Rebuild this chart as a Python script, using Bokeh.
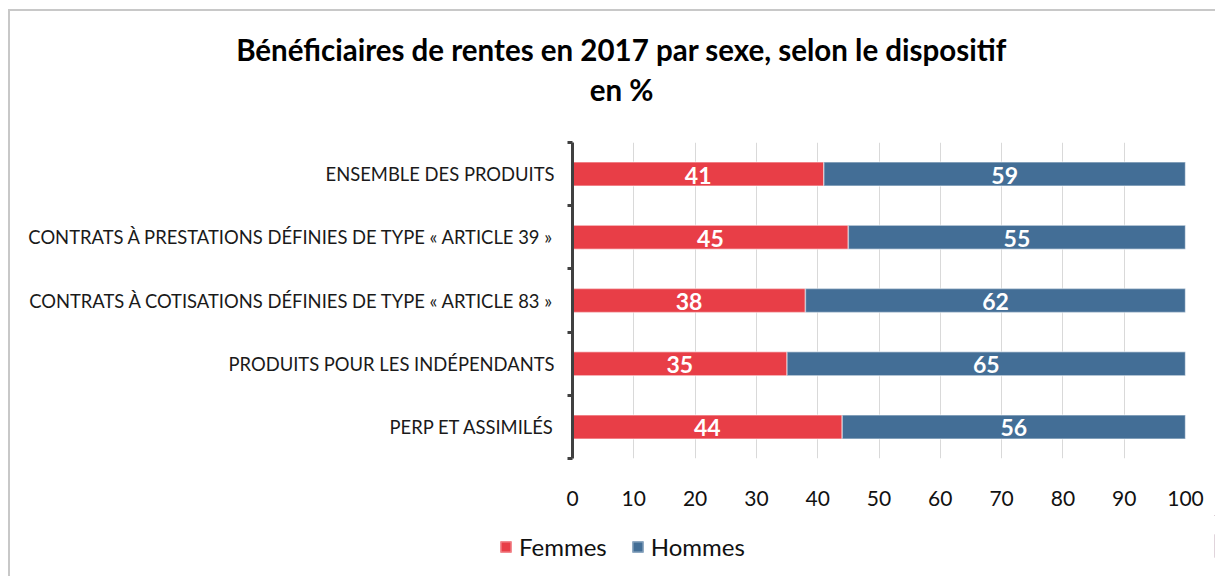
from bokeh.plotting import figure
from bokeh.layouts import column
from bokeh.models import (Range1d, LinearAxis, FixedTicker,
                          ColumnDataSource, LabelSet, Label, Legend, LegendItem)
from bokeh.core.properties import value
from bokeh.embed import file_html
from bokeh.resources import INLINE

categories = [
    "ENSEMBLE DES PRODUITS",
    "CONTRATS À PRESTATIONS DÉFINIES DE TYPE « ARTICLE 39 »",
    "CONTRATS À COTISATIONS DÉFINIES DE TYPE « ARTICLE 83 »",
    "PRODUITS POUR LES INDÉPENDANTS",
    "PERP ET ASSIMILÉS",
]
femmes = [41, 45, 38, 35, 44]
hommes = [59, 55, 62, 65, 56]
x_ticks = [0, 10, 20, 30, 40, 50, 60, 70, 80, 90, 100]
title_line1 = "Bénéficiaires de rentes en 2017 par sexe, selon le dispositif"
title_line2 = "en %"
series_names = ["Femmes", "Hommes"]

RED = "#E83E47"
BLUE = "#436E96"
FONT = "Lato"
W = 1205


def bare(fig):
    fig.outline_line_color = None
    fig.background_fill_color = "white"
    fig.border_fill_color = "white"
    fig.xgrid.visible = False
    fig.ygrid.visible = False
    return fig


def no_align(fig):
    try:
        fig.frame_align = False
    except Exception:
        pass
    return fig


# ---------- title strip ----------
HA = 120
pa = bare(figure(width=W, height=HA, output_backend="svg", toolbar_location=None,
                 x_range=Range1d(0, 1), y_range=Range1d(0, 1),
                 x_axis_location=None, y_axis_location=None, min_border=0))
no_align(pa)
pa.add_layout(Label(x=611, y=82, x_units="screen", y_units="screen", text=title_line1,
                    text_align="center", text_baseline="middle", text_font=FONT,
                    text_font_style="bold", text_font_size="29.5px", text_color="black"))
pa.add_layout(Label(x=611, y=42, x_units="screen", y_units="screen", text=title_line2,
                    text_align="center", text_baseline="middle", text_font=FONT,
                    text_font_style="bold", text_font_size="29.5px", text_color="black"))

# ---------- main chart ----------
n = len(categories)
ypos = [n - 0.5 - i for i in range(n)]   # category centres, first at top
edges = list(range(n + 1))               # category boundaries

HB = 384
p = figure(width=W, height=HB, output_backend="svg", toolbar_location=None,
           y_range=Range1d(0, n), x_range=Range1d(0, 100),
           x_axis_location=None, y_axis_location=None,
           min_border_left=562, min_border_right=30, min_border_top=11, min_border_bottom=57)
no_align(p)
p.outline_line_color = None
p.background_fill_color = "white"
p.border_fill_color = "white"

edge_axis = LinearAxis(ticker=FixedTicker(ticks=edges),
                       major_label_overrides={e: "" for e in edges},
                       major_label_standoff=0, major_tick_out=5, major_tick_in=0,
                       minor_tick_line_color=None,
                       axis_line_width=3, axis_line_color="#404040",
                       major_tick_line_width=3, major_tick_line_color="#404040")
p.add_layout(edge_axis, "left")

cat_axis = LinearAxis(ticker=FixedTicker(ticks=ypos),
                      major_label_overrides={y: c for y, c in zip(ypos, categories)},
                      axis_line_color=None, major_tick_line_color=None, minor_tick_line_color=None,
                      major_label_standoff=7,
                      major_label_text_font=FONT, major_label_text_font_size="18.4px",
                      major_label_text_color="#1a1a1a")
p.add_layout(cat_axis, "left")

x_axis = LinearAxis(ticker=FixedTicker(ticks=x_ticks), axis_line_color=None,
                    major_tick_line_color=None, minor_tick_line_color=None,
                    major_label_standoff=26, major_label_text_font=FONT,
                    major_label_text_font_size="21px", major_label_text_color="#111111")
p.add_layout(x_axis, "below")

p.xgrid.ticker = FixedTicker(ticks=x_ticks)
p.xgrid.grid_line_color = "#d9d9d9"
p.ygrid.grid_line_color = None

src = ColumnDataSource(dict(
    y=ypos,
    f_end=femmes,
    h_end=[a + b for a, b in zip(femmes, hommes)],
    f_mid=[a / 2 for a in femmes],
    h_mid=[a + b / 2 for a, b in zip(femmes, hommes)],
    f_txt=[str(v) for v in femmes],
    h_txt=[str(v) for v in hommes],
))

bar_style = dict(line_color="white", line_alpha=0.45, line_width=1.5)
p.hbar(y="y", left=0, right="f_end", height=0.38, source=src, fill_color=RED, **bar_style)
p.hbar(y="y", left="f_end", right="h_end", height=0.38, source=src, fill_color=BLUE, **bar_style)

for xcol, tcol in (("f_mid", "f_txt"), ("h_mid", "h_txt")):
    p.add_layout(LabelSet(x=xcol, y="y", text=tcol, source=src, text_align="center",
                          text_baseline="middle", text_color="white", text_font=value(FONT),
                          text_font_style="bold", text_font_size="23px", y_offset=-1))

# ---------- legend strip (same data, drawn outside the strip's visible range) ----------
HC = 61
pc = bare(figure(width=W, height=HC, output_backend="svg", toolbar_location=None,
                 x_range=Range1d(-2, -1), y_range=Range1d(0, 1),
                 x_axis_location=None, y_axis_location=None, min_border=0))
no_align(pc)
lr1 = pc.hbar(y="y", left=0, right="f_end", height=0.38, source=src, fill_color=RED,
              line_color="#f28a90", line_width=1.5)
lr2 = pc.hbar(y="y", left="f_end", right="h_end", height=0.38, source=src, fill_color=BLUE,
              line_color="#8fa9c2", line_width=1.5)
legend = Legend(items=[LegendItem(label=series_names[0], renderers=[lr1]),
                       LegendItem(label=series_names[1], renderers=[lr2])],
                orientation="horizontal", location=(489, 15),
                label_text_font=FONT, label_text_font_size="24px", label_text_color="#111111",
                glyph_width=13, glyph_height=13, label_standoff=7, spacing=24,
                padding=0, margin=0, border_line_color=None, background_fill_alpha=0)
pc.add_layout(legend, "center")

layout = column(pa, p, pc, spacing=0,
                styles={"margin-left": "8px", "margin-top": "9px",
                        "border-left": "2px solid #c8c8c8", "border-top": "2px solid #c8c8c8"})

open("out.html", "w").write(file_html(layout, INLINE))
